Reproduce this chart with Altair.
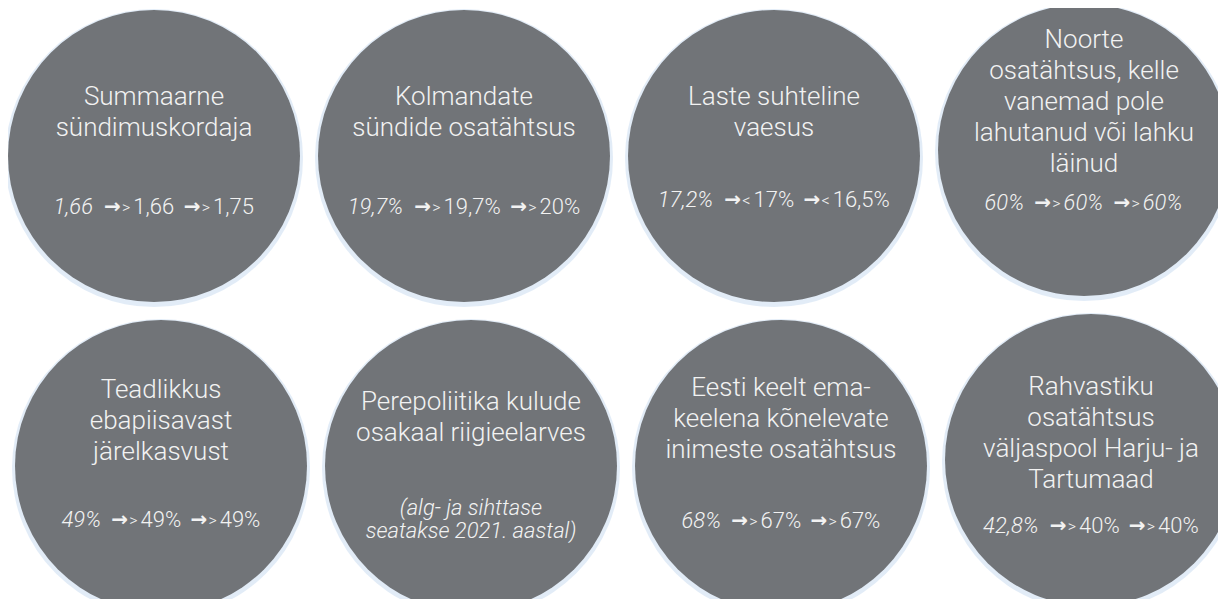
import altair as alt
import pandas as pd

# ---------------- data ----------------
titles = [
    ["Summaarne", "sündimuskordaja"],
    ["Kolmandate", "sündide osatähtsus"],
    ["Laste suhteline", "vaesus"],
    ["Noorte", "osatähtsus, kelle", "vanemad pole", "lahutanud või lahku", "läinud"],
    ["Teadlikkus", "ebapiisavast", "järelkasvust"],
    ["Perepoliitika kulude", "osakaal riigieelarves"],
    ["Eesti keelt ema-", "keelena kõnelevate", "inimeste osatähtsus"],
    ["Rahvastiku", "osatähtsus", "väljaspool Harju- ja", "Tartumaad"],
]
start_values = ["1,66", "19,7%", "17,2%", "60%", "49%", "", "68%", "42,8%"]
signs = [">", ">", "<", ">", ">", "", ">", ">"]
mid_values = ["1,66", "19,7%", "17%", "60%", "49%", "", "67%", "40%"]
end_values = ["1,75", "20%", "16,5%", "60%", "49%", "", "67%", "40%"]
all_italic = [False, False, False, True, False, False, False, False]
note_lines = ["(alg- ja sihttase", "seatakse 2021. aastal)"]
note_index = 5
ARROW = "\u2192"

# ---------------- layout ----------------
W, H = 1210, 591          # plot area (page margin is 8px)
X0, Y0 = 154, 156         # centre of first circle (screen px)
STEP_X, STEP_Y = 310, 310
ROW_SHIFT = 7
LAST_RAISE = 6
DIAM = 292
title_top = [-59, -59, -59, -110, -76, -64, -78, -73]
values_off = [51, 51, 44, 53, 54, 42, 55, 66]
LH = 31
NOTE_LH = 23

FONT = "Roboto Light, Roboto"
T_SIZE = 26
V_SIZE = 22
VI_SIZE = 22
N_SIZE = 22
A_SIZE = 20
S_SIZE = 16

EM = {d: 0.562 for d in "0123456789"}
EM.update({",": 0.2, "%": 0.73, ">": 0.52, "<": 0.52, " ": 0.25})


def tw(s, size):
    return sum(EM.get(c, 0.55) for c in s) * size


circles, titles_rows, pieces, notes = [], [], [], []
for i, lines in enumerate(titles):
    row, col = divmod(i, 4)
    cx = X0 + col * STEP_X + row * ROW_SHIFT
    cy = Y0 + row * STEP_Y - (LAST_RAISE if col == 3 else 0)
    circles.append({"x": cx, "y": cy, "name": lines[0]})
    for k, t in enumerate(lines):
        titles_rows.append({"x": cx, "y": cy + title_top[i] + k * LH, "text": t})
    vy = cy + values_off[i]
    if i == note_index:
        for k, t in enumerate(note_lines):
            notes.append({"x": cx, "y": vy + k * NOTE_LH, "text": t})
        continue
    ital = all_italic[i]
    vkind = "it" if ital else "reg"
    segs = [
        (start_values[i], "it", tw(start_values[i], VI_SIZE)),
        (None, None, 9),
        (ARROW, "arrow", 17),
        (None, None, 1),
        (signs[i], "sign", tw(signs[i], S_SIZE)),
        (None, None, 3),
        (mid_values[i], vkind, tw(mid_values[i], V_SIZE)),
        (None, None, 9),
        (ARROW, "arrow", 17),
        (None, None, 1),
        (signs[i], "sign", tw(signs[i], S_SIZE)),
        (None, None, 3),
        (end_values[i], vkind, tw(end_values[i], V_SIZE)),
    ]
    total = sum(s[2] for s in segs)
    x = cx - total / 2
    for txt, kind, w in segs:
        if txt is not None:
            pieces.append({"x": x, "y": vy, "text": txt, "kind": kind})
        x += w

df_c = pd.DataFrame(circles)
df_t = pd.DataFrame(titles_rows)
df_p = pd.DataFrame(pieces)
df_n = pd.DataFrame(notes)

xs = alt.Scale(domain=[8, 8 + W], nice=False, zero=False)
ys = alt.Scale(domain=[8, 8 + H], nice=False, zero=False, reverse=True)
X = alt.X("x:Q", scale=xs, axis=None)
Y = alt.Y("y:Q", scale=ys, axis=None)

FILL = "#717478"
TXT = "#f2f2f2"

shadow = alt.Chart(df_c).mark_circle(
    size=(DIAM + 6) ** 2, color="#cfe0f1", opacity=0.6, yOffset=2
).encode(x=X, y=Y)
disc = alt.Chart(df_c).mark_circle(size=DIAM ** 2, color=FILL, opacity=1).encode(x=X, y=Y)

title_layer = alt.Chart(df_t).mark_text(
    font=FONT, fontWeight=300, fontSize=T_SIZE, color=TXT, align="center", baseline="middle"
).encode(x=X, y=Y, text="text:N")

note_layer = alt.Chart(df_n).mark_text(
    font=FONT, fontWeight=300, fontStyle="italic", fontSize=N_SIZE, color=TXT,
    align="center", baseline="middle"
).encode(x=X, y=Y, text="text:N")


def piece_layer(kind, **kw):
    return alt.Chart(df_p[df_p["kind"] == kind]).mark_text(
        color=TXT, align="left", baseline="middle", **kw
    ).encode(x=X, y=Y, text="text:N")


it_layer = piece_layer("it", font=FONT, fontWeight=300, fontStyle="italic", fontSize=VI_SIZE)
reg_layer = piece_layer("reg", font=FONT, fontWeight=300, fontSize=V_SIZE)
arrow_layer = piece_layer("arrow", font="DejaVu Sans", fontWeight="bold", fontSize=A_SIZE)
sign_layer = piece_layer("sign", font=FONT, fontWeight=300, fontSize=S_SIZE, dy=1)

chart = alt.layer(
    shadow, disc, title_layer, note_layer, it_layer, reg_layer, arrow_layer, sign_layer
).properties(
    width=W, height=H, padding=0, autosize="none", background="white"
).configure_view(stroke=None)

chart.save("out.html", embed_options={"renderer": "svg", "actions": False})
